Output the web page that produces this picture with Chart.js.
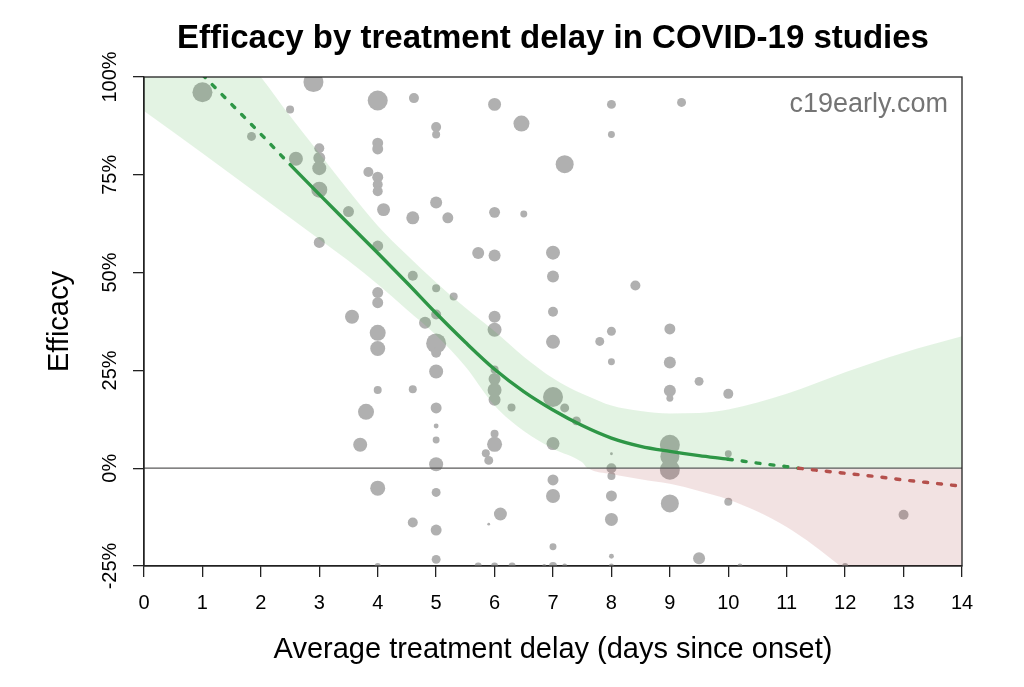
<!DOCTYPE html>
<html>
<head>
<meta charset="utf-8">
<script src="https://cdn.jsdelivr.net/npm/chart.js@4/dist/chart.umd.min.js"></script>
<style>
  html, body { margin: 0; padding: 0; background: #fff; }
  #wrap { width: 1024px; height: 687px; position: relative; }
</style>
</head>
<body>
<div id="wrap"><canvas id="c"></canvas></div>
<script>
// ---------- text ----------
const TITLE = 'Efficacy by treatment delay in COVID-19 studies';
const X_TITLE = 'Average treatment delay (days since onset)';
const Y_TITLE = 'Efficacy';
const WATERMARK = 'c19early.com';

// ---------- axes ----------
const X_MIN = 0, X_MAX = 14;
const Y_MIN = -25, Y_MAX = 100;
const xTickValues = [0, 1, 2, 3, 4, 5, 6, 7, 8, 9, 10, 11, 12, 13, 14];
const xTickLabels = ['0', '1', '2', '3', '4', '5', '6', '7', '8', '9', '10', '11', '12', '13', '14'];
const yTickValues = [-25, 0, 25, 50, 75, 100];
const yTickLabels = ['-25%', '0%', '25%', '50%', '75%', '100%'];

// ---------- studies (bubbles) ----------
const studyDelay = [
  1.0, 2.9, 4.0, 4.62, 2.5, 5.0, 5.0, 4.0, 4.0, 1.84,
  3.0, 3.0, 3.0, 2.6, 3.0, 3.84, 4.0, 4.0, 4.0, 4.1,
  3.5, 4.6, 5.0, 5.2, 3.0, 4.0, 4.6, 5.0, 4.0, 4.0,
  3.56, 4.81, 5.0, 4.0, 4.0, 5.0, 5.0, 5.0, 6.0, 6.46,
  8.0, 9.2, 8.0, 7.2, 6.0, 6.5, 5.72, 6.0, 7.0, 7.0,
  8.41, 5.3, 7.0, 6.0, 6.0, 8.0, 7.8, 7.0, 9.0, 8.0,
  9.0, 6.0, 6.0, 6.0, 6.0, 6.29, 7.0, 7.2, 7.4, 9.0,
  9.0, 9.5, 10.0, 5.0, 5.0, 5.0, 5.0, 6.0, 6.0, 5.85,
  5.9, 7.0, 8.0, 8.0, 8.0, 9.0, 9.0, 9.0, 10.0, 7.0,
  7.0, 5.0, 8.0, 9.0, 10.0, 6.1, 5.9, 8.0, 5.0, 7.0,
  8.0, 9.5, 5.0, 4.0, 4.6, 3.8, 3.7, 4.0, 4.6, 13.0,
  4.0, 5.72, 6.0, 6.3, 6.85, 7.0, 7.2, 8.0, 10.2, 12.0
];
const studyEfficacy = [
  96.1, 98.7, 94.0, 94.6, 91.7, 87.2, 85.3, 83.1, 81.6, 84.8,
  81.8, 79.3, 76.7, 79.1, 71.2, 75.7, 74.4, 72.5, 70.8, 66.1,
  65.6, 64.0, 67.9, 64.0, 57.7, 56.8, 49.2, 46.0, 44.9, 42.3,
  38.7, 37.2, 39.3, 34.6, 30.6, 31.9, 29.5, 24.7, 93.0, 88.1,
  93.0, 93.5, 85.3, 77.7, 65.4, 65.0, 55.0, 54.4, 55.1, 49.0,
  46.7, 43.9, 40.0, 38.7, 35.4, 35.0, 32.4, 32.3, 35.6, 27.2,
  27.0, 25.2, 22.8, 20.0, 17.5, 15.5, 18.2, 15.4, 12.1, 19.8,
  17.9, 22.2, 19.0, 15.4, 10.8, 7.2, 1.0, 8.8, 6.1, 3.8,
  2.0, 6.3, 3.7, 0.0, -2.0, 6.0, 3.0, -0.4, 3.7, -3.0,
  -7.1, -6.2, -7.1, -9.0, -8.6, -11.7, -14.3, -13.1, -15.8, -20.1,
  -22.5, -23.0, -23.3, 20.0, 20.2, 14.4, 6.0, -5.1, -13.9, -11.9,
  -25, -25, -25, -25, -25, -25, -25, -25, -25, -25
];
const studyWeight = [
  100, 100, 100, 25, 16, 25, 16, 30, 30, 20,
  25, 36, 49, 49, 64, 25, 30, 25, 25, 42,
  30, 42, 36, 30, 30, 30, 25, 16, 30, 30,
  49, 36, 25, 64, 56, 100, 25, 49, 42, 64,
  20, 20, 12, 81, 30, 12, 36, 36, 49, 36,
  25, 16, 25, 36, 49, 20, 20, 49, 30, 12,
  36, 16, 36, 49, 36, 16, 100, 20, 20, 36,
  12, 20, 25, 30, 6, 12, 49, 16, 56, 16,
  20, 42, 2, 25, 16, 100, 90, 100, 12, 30,
  49, 20, 30, 81, 16, 42, 2, 42, 30, 12,
  6, 36, 20, 16, 16, 64, 49, 56, 25, 25,
  9, 12, 12, 12, 4, 16, 6, 6, 6, 9
];

// ---------- fitted curve ----------
const curveDelay = [1.0, 1.5, 2.0, 2.5, 3.0, 3.5, 4.0, 4.5, 5.0, 5.5, 6.0, 6.5, 7.0, 7.5,
                    8.0, 8.5, 9.0, 9.5, 10.0, 10.5, 11.0, 11.2, 11.5, 12.0, 12.5, 13.0, 13.5, 14.0];
const curveEfficacy = [100.6, 93.0, 85.4, 77.6, 70.0, 62.5, 55.0, 47.4, 39.6, 32.2, 25.3, 19.6, 14.9, 10.9,
                       7.7, 5.6, 4.3, 3.2, 2.3, 1.3, 0.4, 0.0, -0.5, -1.3, -2.1, -3.0, -3.8, -4.6];
const SOLID_FROM = 2.5, SOLID_TO = 10;

// ---------- confidence band ----------
const bandDelay = [0, 1, 2, 2.5, 3, 3.5, 4, 4.5, 5, 5.5, 6, 6.5, 7, 7.5, 7.6, 8, 8.5, 9, 9.5, 10, 11, 12, 13, 14];
const bandUpper = [135, 118, 100, 90, 80.5, 71, 62, 54.5, 47.5, 41, 35, 28.5, 23, 19, 18.4, 16, 14.6, 14, 14.1, 15, 19, 24.5, 29.5, 33.7];
const bandLower = [91.3, 80.5, 69.5, 64, 58.5, 53, 47, 40.5, 34, 26, 16, 9.5, 5, 1.5, 0, -1.5, -2.8, -4, -5.8, -8, -15, -26, -39, -53];
const bandLowerAboveZero = bandLower.map(v => Math.max(v, 0));

// ---------- styling ----------
const FONT = '"Liberation Sans", Arial, Helvetica, sans-serif';
const GREEN = '#2e9646';
const RED = '#b5504c';
const BAND_GREEN = 'rgba(60,170,60,0.14)';
const BAND_RED = 'rgba(170,60,60,0.15)';
const BUBBLE = '#b0b0b0';
const AXIS = '#222';

Chart.defaults.font.family = FONT;

const toXY = (xs, ys) => xs.map((x, i) => ({ x, y: ys[i] }));

const decor = {
  id: 'decor',
  afterDraw(chart) {
    const { ctx, chartArea: ca, scales } = chart;
    const y = scales.y;
    ctx.save();
    // frame
    ctx.strokeStyle = AXIS;
    ctx.lineWidth = 1.3;
    ctx.strokeRect(ca.left, ca.top, ca.right - ca.left, ca.bottom - ca.top);
    // title
    ctx.fillStyle = '#000';
    ctx.font = 'bold 33px ' + FONT;
    ctx.textAlign = 'center';
    ctx.textBaseline = 'alphabetic';
    ctx.fillText(TITLE, (ca.left + ca.right) / 2, 48);
    // watermark
    ctx.font = '27px ' + FONT;
    ctx.fillStyle = '#747474';
    ctx.textAlign = 'right';
    ctx.fillText(WATERMARK, ca.right - 14, 112);
    // rotated y tick labels
    ctx.font = '20px ' + FONT;
    ctx.fillStyle = '#000';
    ctx.textAlign = 'center';
    yTickValues.forEach((v, i) => {
      const py = y.getPixelForValue(v);
      ctx.save();
      ctx.translate(ca.left - 28, py);
      ctx.rotate(-Math.PI / 2);
      ctx.fillText(yTickLabels[i], 0, 0);
      ctx.restore();
    });
    ctx.restore();
  }
};

new Chart(document.getElementById('c'), {
  type: 'bubble',
  data: {
    datasets: [
      {
        type: 'bubble', label: 'studies', order: 20,
        data: studyDelay.map((d, i) => ({ x: d, y: studyEfficacy[i], r: Math.sqrt(studyWeight[i]) })),
        backgroundColor: BUBBLE, borderWidth: 0, hoverRadius: 0, clip: 0
      },
      {
        type: 'line', label: 'upper', order: 10,
        data: toXY(bandDelay, bandUpper),
        borderWidth: 0, pointRadius: 0, cubicInterpolationMode: 'monotone',
        backgroundColor: BAND_GREEN, fill: '+1', clip: 0
      },
      {
        type: 'line', label: 'lowerAboveZero', order: 9,
        data: toXY(bandDelay, bandLowerAboveZero),
        borderWidth: 0, pointRadius: 0, cubicInterpolationMode: 'monotone', fill: false, clip: 0
      },
      {
        type: 'line', label: 'lower', order: 8,
        data: toXY(bandDelay, bandLower),
        borderWidth: 0, pointRadius: 0, cubicInterpolationMode: 'monotone',
        fill: { target: { value: 0 }, above: 'rgba(0,0,0,0)', below: BAND_RED }, clip: 0
      },
      {
        type: 'line', label: 'zero', order: 7,
        data: [{ x: X_MIN, y: 0 }, { x: X_MAX, y: 0 }],
        borderColor: '#5a5a5a', borderWidth: 1.2, pointRadius: 0, fill: false, clip: 0
      },
      {
        type: 'line', label: 'fit', order: 5,
        data: toXY(curveDelay, curveEfficacy),
        borderColor: GREEN, borderWidth: 3.4, pointRadius: 0, fill: false,
        cubicInterpolationMode: 'monotone', borderCapStyle: 'round', clip: 0,
        segment: {
          borderColor: c => (c.p0.parsed.y <= 0 && c.p0.parsed.x > SOLID_TO) ? RED : GREEN,
          borderDash: c => (c.p0.parsed.x < SOLID_FROM || c.p0.parsed.x >= SOLID_TO) ? [4, 10] : []
        }
      }
    ]
  },
  options: {
    responsive: true,
    maintainAspectRatio: false,
    devicePixelRatio: 1,
    animation: false,
    events: [],
    layout: { padding: { top: 77, right: 62, bottom: 0, left: 0 } },
    plugins: {
      legend: { display: false },
      tooltip: { enabled: false },
      title: { display: false }
    },
    scales: {
      x: {
        type: 'linear', min: X_MIN, max: X_MAX,
        afterBuildTicks: s => { s.ticks = xTickValues.map(v => ({ value: v })); },
        afterFit: s => { s.height = 121; },
        ticks: {
          autoSkip: false, maxRotation: 0, font: { size: 20 }, color: '#000', padding: 14,
          callback: (v, i) => xTickLabels[i]
        },
        grid: { display: true, drawOnChartArea: false, drawTicks: true, tickLength: 11, color: AXIS, lineWidth: 1.3 },
        border: { display: true, color: AXIS, width: 1.3 },
        title: { display: true, text: X_TITLE, font: { size: 29 }, color: '#000', padding: { top: 0, bottom: 20 } }
      },
      y: {
        type: 'linear', min: Y_MIN, max: Y_MAX,
        afterBuildTicks: s => { s.ticks = yTickValues.map(v => ({ value: v })); },
        afterFit: s => { s.width = 144; },
        ticks: { display: false },
        grid: { display: true, drawOnChartArea: false, drawTicks: true, tickLength: 11, color: AXIS, lineWidth: 1.3 },
        border: { display: true, color: AXIS, width: 1.3 },
        title: { display: true, text: Y_TITLE, font: { size: 29 }, color: '#000', padding: { top: 43, bottom: 0 } }
      }
    }
  },
  plugins: [decor]
});
</script>
</body>
</html>
